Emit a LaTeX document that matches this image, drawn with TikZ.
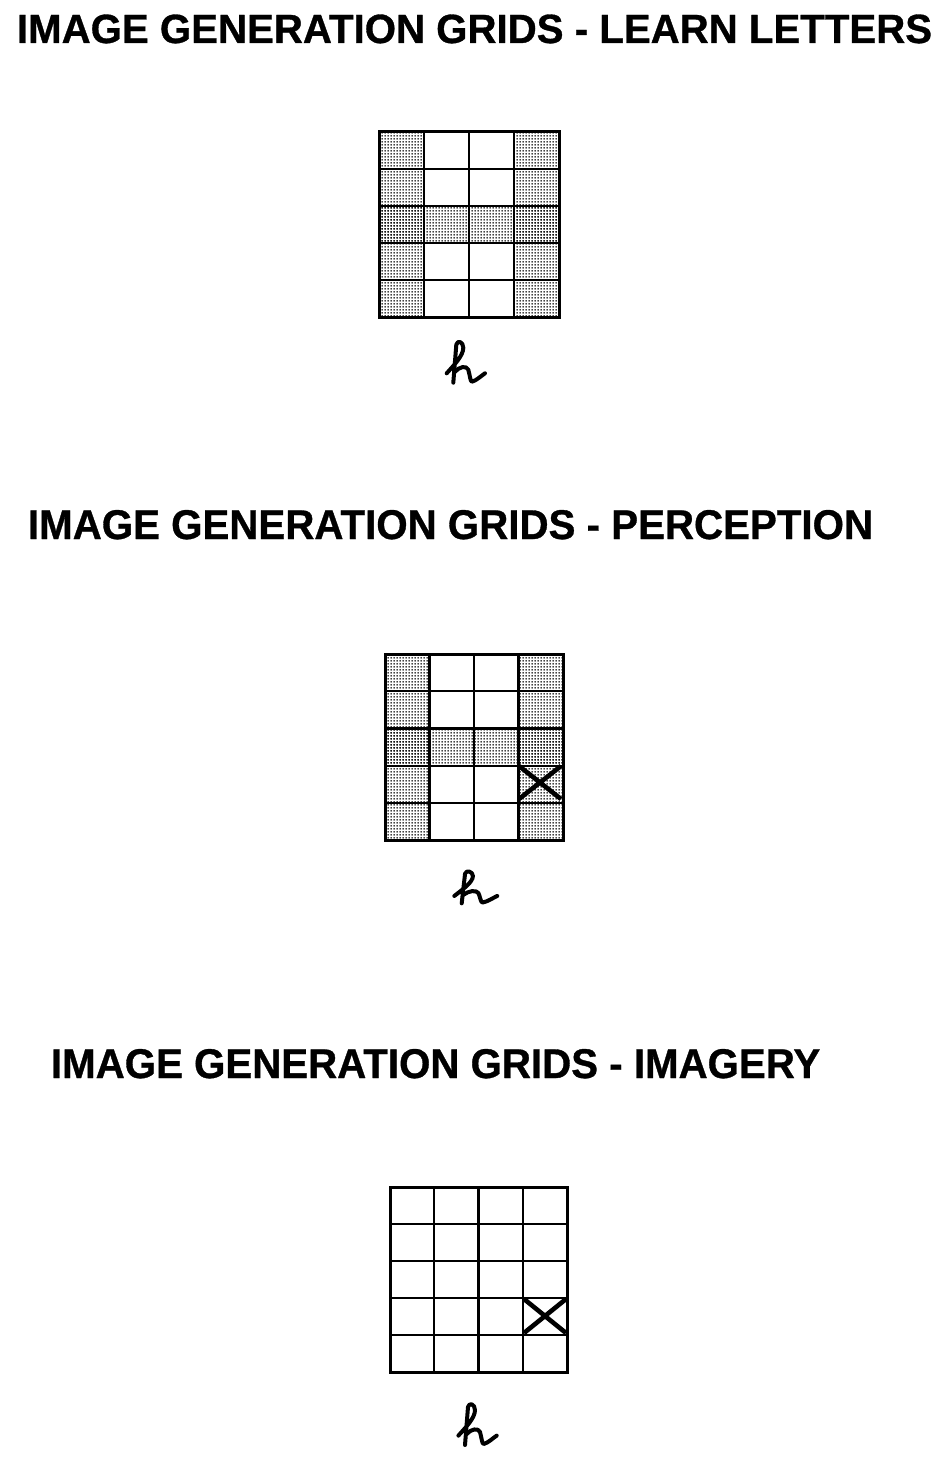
\documentclass[tikz,border=0pt]{standalone}
\usepackage{fontspec}
\setmainfont{Liberation Sans}
\newfontfamily\titlefont{Liberation Sans Bold}[FakeBold=0.8]
\usetikzlibrary{patterns.meta}
\tikzdeclarepattern{
  name=bigdots, type=uncolored,
  bottom left={(0pt,0pt)}, top right={(3pt,3pt)},
  tile size={(3pt,3pt)},
  code={\pgfpathcircle{\pgfpoint{1.5pt}{1.5pt}}{1.1pt}\pgfusepath{fill}}
}
\tikzset{
  gline/.style={line width=2.2pt},
  gborder/.style={line width=3pt},
  shadecell/.style={pattern=bigdots, pattern color=black},
  xmark/.style={line width=4.6pt},
  hand/.style={line width=4pt, line cap=round, line join=round},
  title/.style={anchor=base west, inner sep=0pt, outer sep=0pt},
  hletter/.pic={
    \draw[hand] (-6.6,-9.4) .. controls (1,-18) and (10,-27) .. (10,-35)
      .. controls (10,-41) and (4,-43) .. (3,-38) -- (0,0);
    \draw[hand] (1.7,-11) .. controls (6,-16) and (13,-17.5) .. (15,-13)
      .. controls (16.5,-8) and (17,-1) .. (18.6,-1)
      .. controls (23,-2) and (28,-7) .. (31.7,-9.4);
  }
}
\newcommand{\gridshade}[4]{%
  \pgfmathsetmacro\cw{(#3-#1)/4}\pgfmathsetmacro\rh{(#4-#2)/5}%
  \fill[shadecell] (#1,#2) rectangle (#1+\cw,#4);
  \fill[shadecell] (#3-\cw,#2) rectangle (#3,#4);
  \fill[shadecell] (#1,#2+2*\rh) rectangle (#3,#2+3*\rh);
}
\newcommand{\gridlines}[4]{%
  \pgfmathsetmacro\cw{(#3-#1)/4}\pgfmathsetmacro\rh{(#4-#2)/5}%
  \foreach \i in {1,2,3} \draw[gline] (#1+\i*\cw,#2) -- (#1+\i*\cw,#4);
  \foreach \j in {1,...,4} \draw[gline] (#1,#2+\j*\rh) -- (#3,#2+\j*\rh);
  \draw[gborder] (#1,#2) rectangle (#3,#4);
}
\begin{document}
\begin{tikzpicture}[x=1pt,y=-1pt]
\useasboundingbox (0,0) rectangle (945,1463);
\fill[white] (0,0) rectangle (945,1463);

% titles
\node[title] (t1) at (17,43) {\resizebox{915pt}{28.5pt}{\titlefont IMAGE GENERATION GRIDS - LEARN LETTERS}};
\node[title] (t2) at (28,539) {\resizebox{845pt}{29pt}{\titlefont IMAGE GENERATION GRIDS - PERCEPTION}};
\node[title] (t3) at (51,1078) {\resizebox{769pt}{29pt}{\titlefont IMAGE GENERATION GRIDS - IMAGERY}};

% grid 1
\gridshade{379}{132}{559}{317}
\gridlines{379}{132}{559}{317}
\pic at (453.3,382.7) {hletter};

% grid 2
\gridshade{385}{654}{563}{840}
\gridlines{385}{654}{563}{840}
\draw[xmark] (519,766) -- (561,799) (519,799) -- (561,766);
\pic[xscale=1.12,yscale=0.78] at (461.7,903.3) {hletter};

% grid 3
\gridlines{390}{1187}{567}{1372}
\draw[xmark] (524,1299) -- (566,1333) (524,1333) -- (566,1299);
\pic at (465,1445) {hletter};
\end{tikzpicture}
\end{document}
